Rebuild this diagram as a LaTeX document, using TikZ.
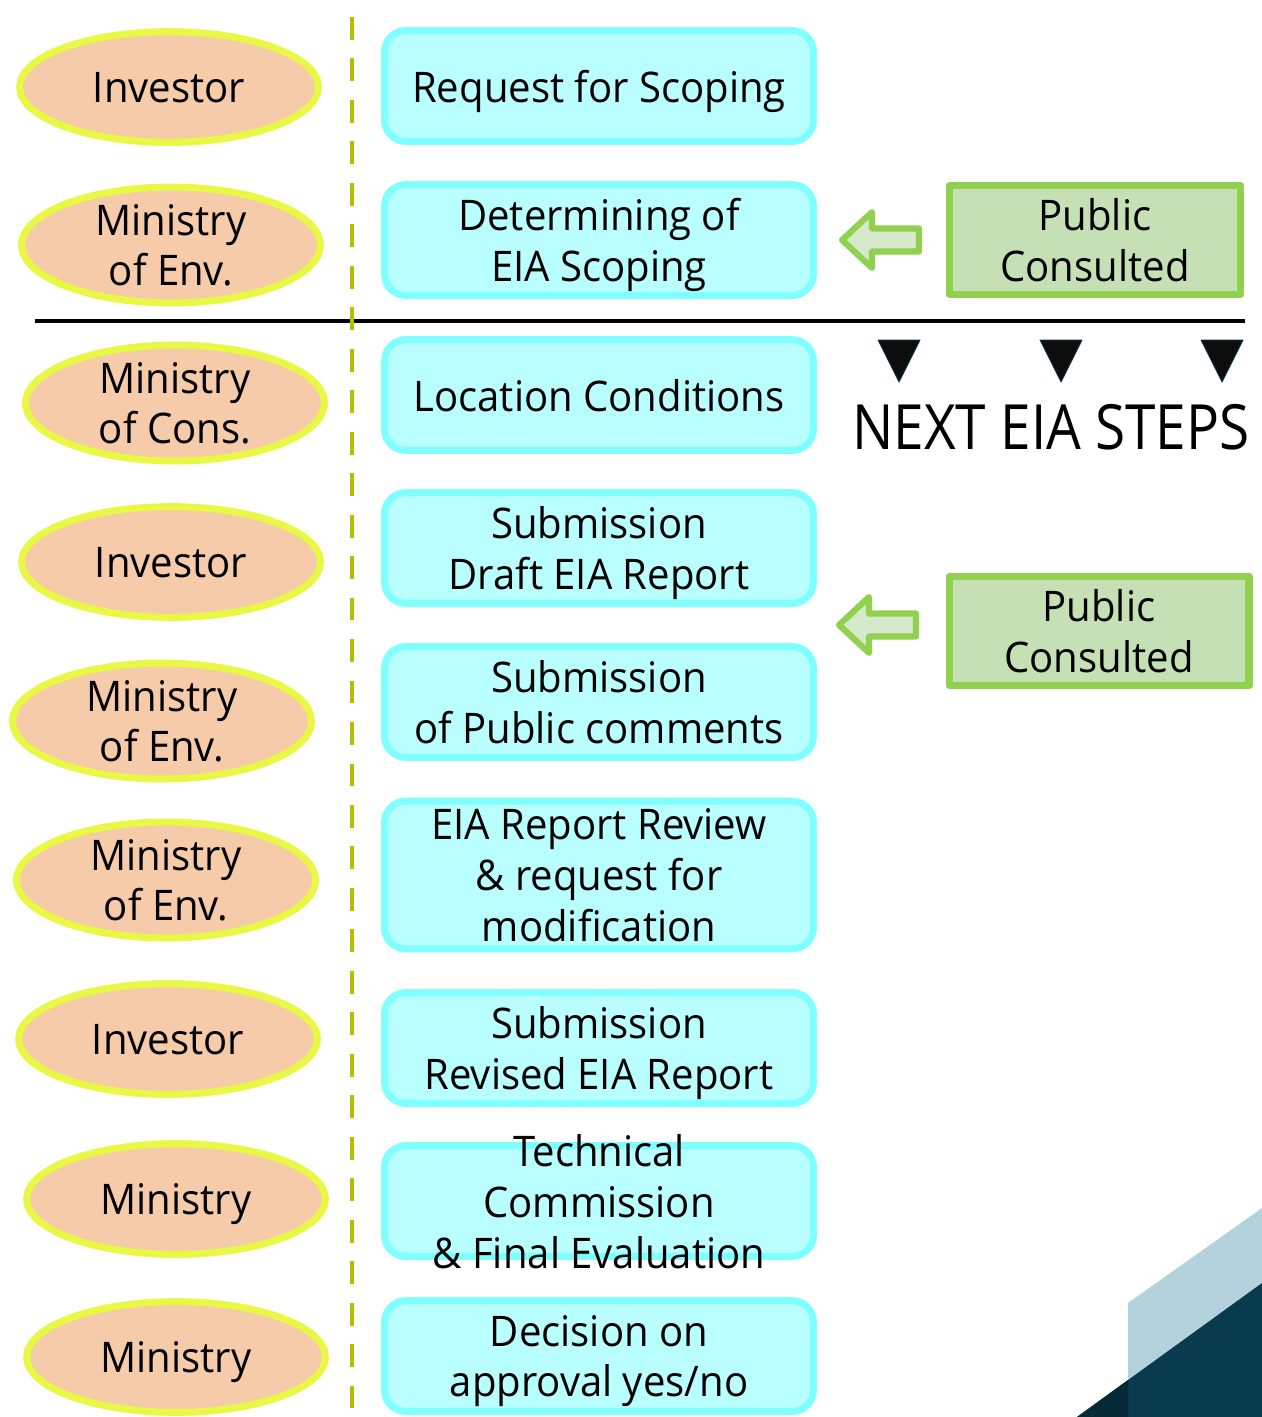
\documentclass[tikz,border=0pt]{standalone}
\usepackage{fontspec}
\setmainfont[FakeStretch=0.95]{Open Sans}
\newfontfamily\stepsfont[FakeStretch=0.88]{Open Sans}
\usetikzlibrary{shapes.geometric}
\definecolor{peach}{RGB}{246,203,169}
\definecolor{lemon}{RGB}{232,248,68}
\definecolor{aqua}{RGB}{128,255,255}
\definecolor{paleaqua}{RGB}{185,255,255}
\definecolor{leaf}{RGB}{146,208,80}
\definecolor{paleleaf}{RGB}{197,224,180}
\definecolor{dashgreen}{RGB}{181,190,0}
\definecolor{slate}{RGB}{180,210,219}
\definecolor{deepteal}{RGB}{8,59,77}
\definecolor{darkteal}{RGB}{5,42,54}
\begin{document}
\begin{tikzpicture}[x=0.2mm,y=-0.2mm,line join=round,
  font=\fontsize{24}{29}\selectfont,
  actor/.style={ellipse,draw=lemon,fill=peach,line width=4pt,minimum width=170pt,minimum height=63pt,inner sep=0pt,align=center,text depth=0pt},
  stepbox/.style={rectangle,rounded corners=12pt,draw=aqua,fill=paleaqua,line width=4pt,minimum width=244pt,minimum height=63pt,inner sep=0pt,align=center,text depth=0pt},
  pubbox/.style={rectangle,draw=leaf,fill=paleleaf,line width=4pt,minimum height=62.4pt,inner sep=0pt,align=center,text depth=0pt},
  fatarrow/.style={draw=leaf,fill=paleleaf!70!white,line width=3.5pt}]
\useasboundingbox (0,0) rectangle (1262,1417);

% corner
\fill[slate] (1128,1417) -- (1128,1303) -- (1262,1208) -- (1262,1417) -- cycle;
\fill[deepteal] (1077,1417) -- (1262,1283) -- (1262,1417) -- cycle;
\fill[darkteal] (1077,1417) -- (1128,1380) -- (1128,1417) -- cycle;

% dividers
\draw[line width=2.3pt] (35,321) -- (1245,321);
\draw[dashgreen,line width=2.8pt,dash pattern=on 13pt off 10.6pt] (352,17) -- (352,1417);

% who
\foreach \n/\x/\y/\t in {
  i1/169/87/Investor,
  m1/171/245/{Ministry\\of Env.},
  m2/175/403/{Ministry\\of Cons.},
  i2/171/562/Investor,
  m3/162/721/{Ministry\\of Env.},
  m4/166/880/{Ministry\\of Env.},
  i3/168/1039/Investor,
  m5/176/1199/Ministry,
  m6/176/1357/Ministry}
  \node[actor] (\n) at (\x,\y) {\t};

% what
\foreach \n/\y/\t in {
  s1/86/Request for Scoping,
  s2/240/{Determining of\\EIA Scoping},
  s3/395/Location Conditions,
  s4/548/{Submission\\Draft EIA Report},
  s5/702/{Submission\\of Public comments},
  s7/1048/{Submission\\Revised EIA Report},
  s9/1356/{Decision on\\approval yes/no}}
  \node[stepbox] (\n) at (599,\y) {\t};
\node[stepbox,minimum height=84pt] (s6) at (599,875) {EIA Report Review\\\& request for\\modification};
\node[stepbox] (s8) at (599,1201) {};
\node[align=center,text depth=0pt] (s8t) at (s8) {Technical\\Commission\\\& Final Evaluation};

% public
\node[pubbox,minimum width=166pt] (p1) at (1095,240) {Public\\Consulted};
\node[pubbox,minimum width=170.7pt] (p2) at (1099,631) {Public\\Consulted};
\foreach \x/\y in {842/240,839/625}
  \draw[fatarrow] (\x,\y) -- ++(30,-28) -- ++(0,16.5) -- ++(47,0) -- ++(0,23)
    -- ++(-47,0) -- ++(0,16.5) -- cycle;

% next steps
\foreach \x in {899,1061,1222}
  \fill[black!95,draw=deepteal,line width=0.5pt] (\x-21,340) -- (\x+21,340) -- (\x,382) -- cycle;
\node[font=\stepsfont\fontsize{35.5}{42}\selectfont] (next) at (1051,427) {NEXT EIA STEPS};

\end{tikzpicture}
\end{document}
